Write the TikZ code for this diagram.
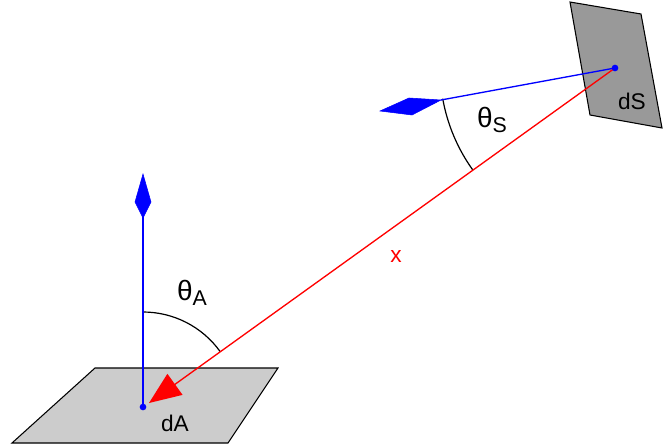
\documentclass[tikz,border=0pt]{standalone}
\usepackage{fontspec}
\setmainfont{Liberation Sans}
\usetikzlibrary{calc}
\begin{document}
\begin{tikzpicture}[x=0.75pt,y=-0.75pt,
  lbl/.style={font=\fontsize{17}{20}\selectfont},
  kite/.style={fill=blue,draw=blue}]
\useasboundingbox (0,0) rectangle (664,446);
\fill[gray!40,draw=black,line width=0.8pt] (95,368) -- (278,368) -- (228,443) -- (12,443) -- cycle;
\fill[gray!80,draw=black,line width=0.8pt] (570,2) -- (641,14) -- (662,128) -- (590,115) -- cycle;
\coordinate (dA) at (143,407);
\coordinate (dS) at (615,68);
\coordinate (nA) at (143,215);
\coordinate (nS) at (441,100);
% angle arcs
\draw[line width=0.9pt] (143,312) arc[start angle=90,end angle=35.7,radius=95*0.75pt];
\draw[line width=0.9pt] ($(dS)+(190.1:175*0.75pt)$) arc[start angle=190.1,end angle=215.7,radius=175*0.75pt];
% normals
\draw[blue,line width=1pt] (dA) -- (nA);
\fill[kite] (143,174) -- (151,202) -- (143,218) -- (135,202) -- cycle;
\draw[blue,line width=1pt] (dS) -- (nS);
\fill[kite] (380,111) -- (409,98) -- (441,100) -- (412,115) -- cycle;
% ray
\coordinate (tip) at (149,403);
\draw[red,line width=1pt] (dS) -- ($(tip)!0.03!(dS)$);
\fill[red] (tip) -- ($(tip)!32*0.75pt!(dS)!13*0.75pt!90:(dS)$) -- ($(tip)!32*0.75pt!(dS)!13*0.75pt!-90:(dS)$) -- cycle;
\fill[blue] (dA) circle (2.5pt);
\fill[blue] (dS) circle (2.5pt);
% labels
\node[lbl] (tA) at (192,293) {\fontsize{21}{24}\selectfont θ\raisebox{-0.35ex}{\fontsize{16}{18}\selectfont A}};
\node[lbl] (tS) at (492,120) {\fontsize{21}{24}\selectfont θ\raisebox{-0.35ex}{\fontsize{16}{18}\selectfont S}};
\node[lbl,text=red] (xl) at (396,257) {x};
\node[lbl] (ldS) at (632,101) {dS};
\node[lbl] (ldA) at (175,423) {dA};
\end{tikzpicture}
\end{document}
